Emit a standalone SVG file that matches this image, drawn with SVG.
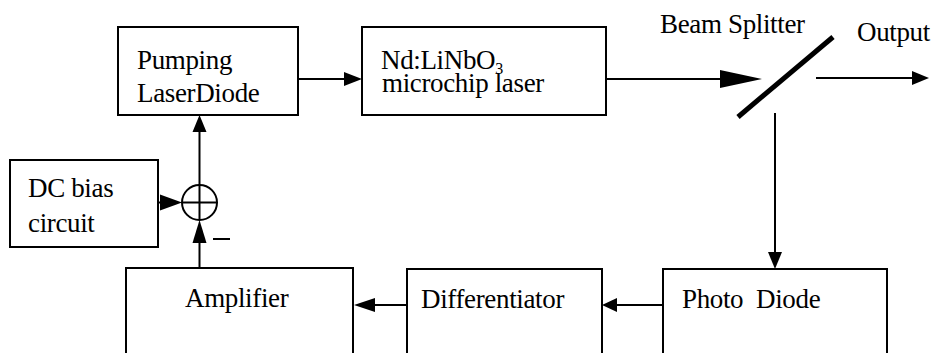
<svg xmlns="http://www.w3.org/2000/svg" width="933" height="353" viewBox="0 0 933 353">
<style>
.box{fill:#fff;stroke:#000;stroke-width:2}
.ln{fill:none;stroke:#000;stroke-width:2}
.ah{fill:#000;stroke:none}
.t{font-family:"Liberation Serif","Times New Roman",serif;font-size:27px;letter-spacing:-0.35px;fill:#000}
</style>
<rect width="933" height="353" fill="#fff"/>
<g id="pumping">
<rect class="box" x="118" y="27" width="180" height="88"/>
<text class="t" x="137" y="69">Pumping</text>
<text class="t" x="137" y="102">LaserDiode</text>
</g>
<g id="laser">
<rect class="box" x="362" y="27" width="244" height="88"/>
<text class="t" x="381" y="69">Nd:LiNbO<tspan font-size="16" dy="5">3</tspan></text>
<text class="t" x="382" y="92">microchip laser</text>
</g>
<g id="splitter">
<line x1="738" y1="117" x2="833" y2="37" stroke="#000" stroke-width="5"/>
<text class="t" x="660" y="33">Beam Splitter</text>
</g>
<g id="output">
<text class="t" x="857" y="41">Output</text>
</g>
<g id="dcbias">
<rect class="box" x="10" y="160" width="148" height="87"/>
<text class="t" x="28" y="197">DC bias</text>
<text class="t" x="28" y="232">circuit</text>
</g>
<g id="sum">
<circle cx="199.5" cy="202.5" r="17.5" class="box"/>
<line class="ln" x1="182" y1="202.5" x2="217" y2="202.5"/>
<line class="ln" x1="199.5" y1="185" x2="199.5" y2="220"/>
<line class="ln" x1="213" y1="239" x2="230" y2="239"/>
</g>
<g id="amplifier">
<rect class="box" x="126" y="268" width="227" height="100"/>
<text class="t" x="185" y="307">Amplifier</text>
</g>
<g id="differentiator">
<rect class="box" x="407" y="269" width="195" height="100"/>
<text class="t" x="421" y="308">Differentiator</text>
</g>
<g id="photodiode">
<rect class="box" x="663" y="269" width="224" height="100"/>
<text class="t" x="682" y="308" xml:space="preserve">Photo  Diode</text>
</g>
<g id="connectors">
<line class="ln" x1="298" y1="79" x2="345" y2="79"/>
<polygon class="ah" points="362,79 344,72 344,86"/>
<line class="ln" x1="606" y1="79" x2="722" y2="79"/>
<polygon class="ah" points="762,79 720,70 720,88"/>
<line class="ln" x1="816" y1="78" x2="914" y2="78"/>
<polygon class="ah" points="929,78 912,71 912,85"/>
<line class="ln" x1="775" y1="113" x2="775" y2="254"/>
<polygon class="ah" points="775,269 768,252 782,252"/>
<line class="ln" x1="663" y1="305" x2="616" y2="305"/>
<polygon class="ah" points="602,305 617,298 617,312"/>
<line class="ln" x1="407" y1="305" x2="372" y2="305"/>
<polygon class="ah" points="354,305 375,298 375,312"/>
<line class="ln" x1="199.5" y1="185" x2="199.5" y2="130"/>
<polygon class="ah" points="199.5,115 192.5,132 206.5,132"/>
<line class="ln" x1="158" y1="202.5" x2="164" y2="202.5"/>
<polygon class="ah" points="182,202.5 160,194.5 160,210.5"/>
<line class="ln" x1="199.5" y1="268" x2="199.5" y2="240"/>
<polygon class="ah" points="199.5,220 192.5,243 206.5,243"/>
</g>
</svg>
